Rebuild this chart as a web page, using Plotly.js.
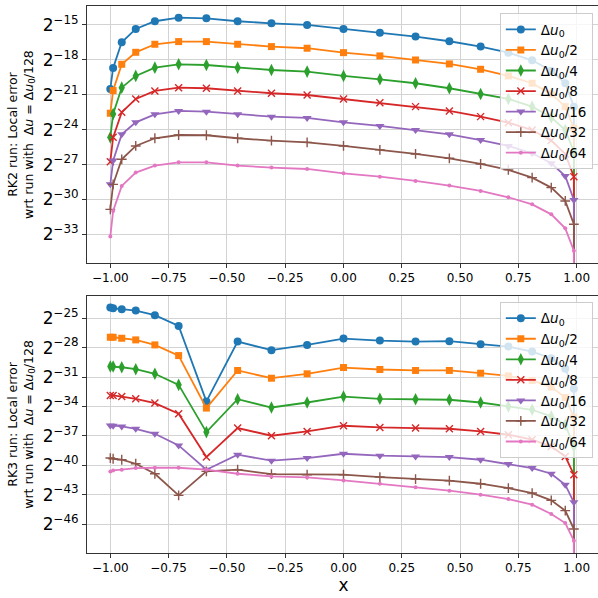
<!DOCTYPE html>
<html>
<head>
<meta charset="utf-8">
<script src="https://cdn.plot.ly/plotly-3.0.1.min.js"></script>
<style>
html, body { margin: 0; padding: 0; overflow: hidden; background: #fff; }
#chart { width: 601px; height: 598px; }
</style>
</head>
<body>
<div id="chart"></div>
<script>
// Grid points (x)
const xPts = [-1.0, -0.988, -0.951, -0.891, -0.809, -0.707, -0.588, -0.454, -0.309, -0.156, 0.0,
              0.156, 0.309, 0.454, 0.588, 0.707, 0.809, 0.891, 0.951, 0.988, 1.0];

// Series labels
const seriesLabels = ["Δ<i>u</i><sub>0</sub>", "Δ<i>u</i><sub>0</sub>/2", "Δ<i>u</i><sub>0</sub>/4",
                      "Δ<i>u</i><sub>0</sub>/8", "Δ<i>u</i><sub>0</sub>/16", "Δ<i>u</i><sub>0</sub>/32",
                      "Δ<i>u</i><sub>0</sub>/64"];

// RK2 local error, read as log2 values (last point is zero error -> -Infinity)
const rk2_du0    = [-20.5, -18.7, -16.49, -15.34, -14.68, -14.37, -14.43, -14.68, -14.86, -15.0, -15.34, -15.66, -16.0, -16.4, -16.86, -17.38, -18.04, -18.93, -20.01, -22.02, -Infinity];
const rk2_du0_2  = [-22.59, -20.64, -18.38, -17.35, -16.66, -16.43, -16.43, -16.66, -16.86, -17.0, -17.38, -17.66, -18.01, -18.35, -18.81, -19.38, -20.01, -20.93, -22.02, -23.88, -Infinity];
const rk2_du0_4  = [-24.66, -22.65, -20.39, -19.38, -18.67, -18.38, -18.44, -18.67, -18.87, -19.01, -19.38, -19.67, -20.01, -20.44, -20.93, -21.36, -22.02, -22.94, -24.03, -25.89, -Infinity];
const rk2_du0_8  = [-26.75, -24.66, -22.51, -21.36, -20.67, -20.39, -20.44, -20.67, -20.87, -21.02, -21.36, -21.68, -22.02, -22.39, -22.88, -23.4, -24.03, -24.94, -26.09, -28.04, -Infinity];
const rk2_du0_16 = [-28.7, -26.66, -24.4, -23.37, -22.68, -22.39, -22.45, -22.68, -22.88, -22.99, -23.37, -23.68, -24.03, -24.4, -24.89, -25.4, -26.03, -26.89, -27.98, -30.04, -Infinity];
const rk2_du0_32 = [-30.85, -28.7, -26.55, -25.4, -24.74, -24.46, -24.48, -24.74, -24.94, -25.09, -25.4, -25.74, -26.09, -26.46, -26.95, -27.46, -28.12, -28.98, -30.13, -32.13, -Infinity];
const rk2_du0_64 = [-33.19, -30.99, -28.84, -27.69, -27.09, -26.81, -26.81, -27.09, -27.26, -27.38, -27.75, -28.04, -28.41, -28.81, -29.27, -29.81, -30.42, -31.28, -32.48, -34.4, -Infinity];

// RK3 local error, read as log2 values
const rk3_du0    = [-23.91, -23.98, -24.08, -24.22, -24.69, -25.78, -33.49, -27.38, -28.26, -27.72, -27.07, -27.28, -27.38, -27.34, -27.65, -27.89, -28.4, -29.08, -30.16, -32.2, -Infinity];
const rk3_du0_2  = [-26.94, -26.94, -27.04, -27.21, -27.72, -28.81, -34.17, -30.33, -31.12, -30.67, -30.03, -30.23, -30.33, -30.33, -30.61, -30.88, -31.35, -32.03, -33.09, -35.09, -Infinity];
const rk3_du0_4  = [-29.93, -29.93, -30.0, -30.2, -30.67, -31.8, -36.62, -33.26, -34.11, -33.6, -32.99, -33.22, -33.26, -33.32, -33.6, -34.0, -34.34, -35.02, -35.87, -38.08, -Infinity];
const rk3_du0_8  = [-32.88, -32.88, -32.99, -33.22, -33.66, -34.75, -39.17, -36.21, -36.99, -36.55, -35.97, -36.14, -36.21, -36.28, -36.55, -36.89, -37.4, -38.08, -39.1, -40.97, -Infinity];
const rk3_du0_16 = [-35.94, -35.97, -36.04, -36.28, -36.79, -37.98, -40.46, -38.93, -39.54, -39.27, -38.83, -39.03, -39.1, -39.17, -39.44, -39.88, -40.29, -40.87, -41.99, -43.79, -Infinity];
const rk3_du0_32 = [-39.27, -39.34, -39.44, -39.85, -40.87, -43.08, -40.63, -40.46, -40.9, -40.97, -40.97, -41.21, -41.41, -41.58, -41.89, -42.33, -42.84, -43.59, -44.64, -46.51, -Infinity];
const rk3_du0_64 = [-40.63, -40.53, -40.46, -40.29, -40.26, -40.26, -40.46, -40.87, -41.14, -41.24, -41.55, -41.89, -42.26, -42.6, -43.01, -43.45, -44.03, -44.98, -45.9, -47.7, -Infinity];

// Tick labels
const xTickVals = [-1.0, -0.75, -0.5, -0.25, 0.0, 0.25, 0.5, 0.75, 1.0];
const rk2TickExps = [-15, -18, -21, -24, -27, -30, -33];
const rk3TickExps = [-25, -28, -31, -34, -37, -40, -43, -46];

const rk2Series = [rk2_du0, rk2_du0_2, rk2_du0_4, rk2_du0_8, rk2_du0_16, rk2_du0_32, rk2_du0_64];
const rk3Series = [rk3_du0, rk3_du0_2, rk3_du0_4, rk3_du0_8, rk3_du0_16, rk3_du0_32, rk3_du0_64];

// Styles
const colors = ['#1f77b4', '#ff7f0e', '#2ca02c', '#d62728', '#9467bd', '#8c564b', '#e377c2'];
const symbols = ['circle', 'square', 'diamond-tall', 'x-thin-open', 'triangle-down', 'cross-thin-open', 'circle'];
const sizes = [8, 7, 9, 7, 8, 7, 4];

// zero error is clipped to a tiny positive value on the log axis (like matplotlib)
function toVal(e) { const v = Math.pow(2, e); return v > 0 ? v : 1e-300; }

const traces = [];
function addTraces(series, xa, ya, legendName) {
  series.forEach((s, i) => {
    const thin = symbols[i].indexOf('thin') >= 0;
    traces.push({
      type: 'scatter', mode: 'lines+markers',
      x: xPts, y: s.map(toVal),
      xaxis: xa, yaxis: ya, legend: legendName,
      name: seriesLabels[i],
      line: { color: colors[i], width: 1.8 },
      marker: { symbol: symbols[i], size: sizes[i], color: colors[i],
                line: { color: colors[i], width: thin ? 1.4 : 0 } }
    });
  });
}
addTraces(rk2Series, 'x', 'y', 'legend');
addTraces(rk3Series, 'x2', 'y2', 'legend2');

const L2 = Math.log10(2);
const supText = e => '2<sup>\u2212' + Math.abs(e) + '</sup>';

const axisBase = {
  showline: true, mirror: true, linecolor: '#333', linewidth: 1,
  ticks: 'outside', ticklen: 4, tickcolor: '#333', tickwidth: 1,
  showgrid: true, gridcolor: '#d3d3d3', gridwidth: 1, zeroline: false
};
const xAxisBase = Object.assign({}, axisBase, {
  range: [-1.1, 1.1], tickmode: 'array', tickvals: xTickVals,
  ticktext: xTickVals.map(v => (v < 0 ? '\u2212' : '') + Math.abs(v).toFixed(2)),
  tickfont: { size: 12, color: '#000' }
});

const yTitleFont = { size: 12.5, color: '#000' };
const titleText = (rk) => rk + ' run: Local error<br>wrt run with  Δ<i>u</i> = Δ<i>u</i><sub>0</sub>/128';

const legendBase = {
  xanchor: 'right', yanchor: 'top', x: 0.986,
  bgcolor: 'rgba(255,255,255,0.8)', bordercolor: '#cccccc', borderwidth: 1,
  font: { size: 13.5, color: '#000' }, itemwidth: 30, tracegroupgap: 0
};

const layout = {
  width: 601, height: 598,
  margin: { l: 87, r: 1, t: 6, b: 45 },
  paper_bgcolor: '#fff', plot_bgcolor: '#fff',
  font: { family: 'DejaVu Sans, sans-serif', color: '#000' },
  xaxis: Object.assign({}, xAxisBase, { anchor: 'y', domain: [0, 1] }),
  xaxis2: Object.assign({}, xAxisBase, { anchor: 'y2', domain: [0, 1],
    title: { text: 'x', font: { size: 17, color: '#000' }, standoff: 4 } }),
  yaxis: Object.assign({}, axisBase, {
    type: 'log', domain: [0.530, 1], anchor: 'x',
    range: [-35.47 * L2, -13.37 * L2],
    tickmode: 'array', tickvals: rk2TickExps.map(e => Math.pow(2, e)), ticktext: rk2TickExps.map(supText),
    tickfont: { size: 17, color: '#000' },
    title: { text: titleText('RK2'), font: yTitleFont, standoff: 6 }
  }),
  yaxis2: Object.assign({}, axisBase, {
    type: 'log', domain: [0, 0.470], anchor: 'x2',
    range: [-48.96 * L2, -22.72 * L2],
    tickmode: 'array', tickvals: rk3TickExps.map(e => Math.pow(2, e)), ticktext: rk3TickExps.map(supText),
    tickfont: { size: 17, color: '#000' },
    title: { text: titleText('RK3'), font: yTitleFont, standoff: 6 }
  }),
  legend: Object.assign({}, legendBase, { y: 0.987 }),
  legend2: Object.assign({}, legendBase, { y: 0.459 }),
  showlegend: true
};

Plotly.newPlot('chart', traces, layout, { displayModeBar: false, staticPlot: true });
</script>
</body>
</html>
